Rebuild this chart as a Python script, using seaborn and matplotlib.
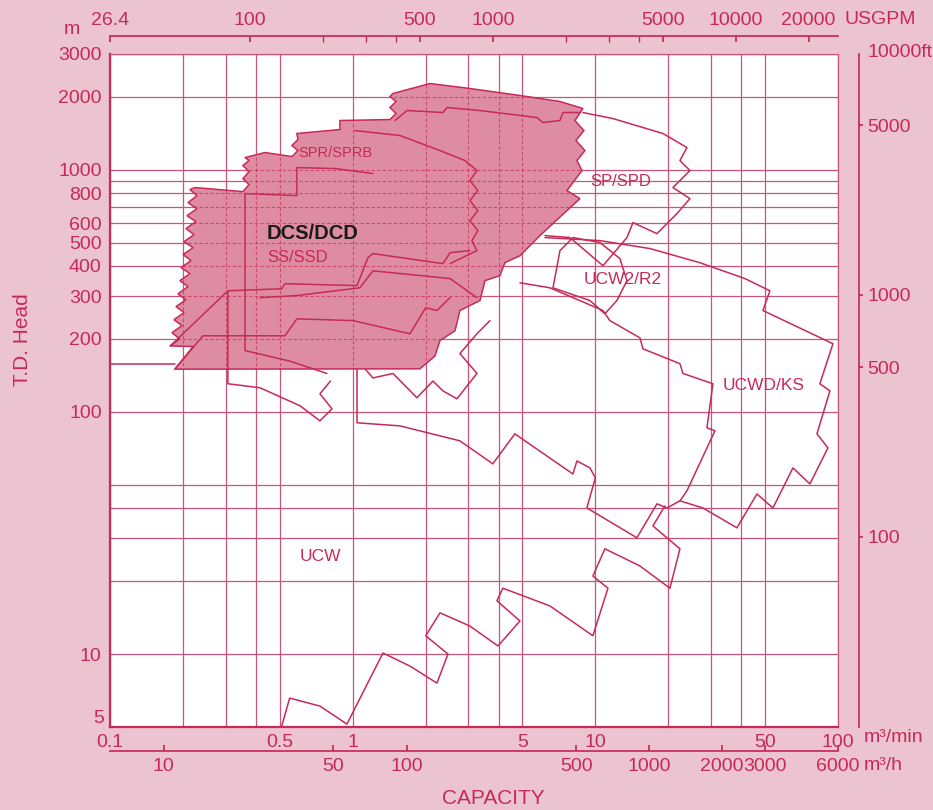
import numpy as np
import pandas as pd
import matplotlib
matplotlib.use("Agg")
import matplotlib.pyplot as plt
from matplotlib.ticker import NullFormatter, NullLocator
from matplotlib.transforms import blended_transform_factory
import seaborn as sns

BG = "#ecc3d0"
RED = "#c62a58"
FILL = "#de8ca4"
GRID = "#c9557a"

# axis ticks (capacity in m3/min, head in m)
q_major = [0.1, 0.5, 1, 5, 10, 50, 100]
q_labels = ["0.1", "0.5", "1", "5", "10", "50", "100"]
q_minor = [0.2, 0.3, 0.4, 2, 3, 4, 20, 30, 40]
h_major = [5, 10, 100, 200, 300, 400, 500, 600, 800, 1000, 2000, 3000]
h_minor = [20, 30, 40, 50, 700, 900]
m3h_ticks = [10, 50, 100, 500, 1000, 2000, 3000, 6000]
gpm_ticks = [26.42, 100, 500, 1000, 5000, 10000, 20000]
gpm_labels = ["26.4", "100", "500", "1000", "5000", "10000", "20000"]
gpm_minor = [200, 300, 400, 2000, 3000, 4000]
ft_ticks = [100, 500, 1000, 5000]

# filled range DCS/DCD + SS/SSD + SPR/SPRB (outer boundary)
fill_q = [0.185, 0.22, 0.177, 0.194, 0.180, 0.198, 0.1835, 0.202, 0.187, 0.2056, 0.1906,
          0.2096, 0.194, 0.2136, 0.196, 0.2157, 0.200, 0.22, 0.2018, 0.222, 0.2056, 0.226,
          0.2075, 0.2283, 0.2096, 0.2283, 0.2136, 0.224, 0.353, 0.374, 0.353, 0.374, 0.353,
          0.374, 0.36, 0.435, 0.562, 0.595, 0.562, 0.595, 0.589, 0.886, 0.886, 1.425, 1.508,
          1.425, 1.508, 1.425, 1.466, 2.083, 3.043, 4.891, 7.149, 8.889, 8.24, 8.97, 8.32,
          9.06, 8.40, 8.81, 7.638, 8.641, 5.913, 4.891, 4.24, 4.046, 3.51, 3.346, 2.767,
          2.64, 2.29, 2.183, 1.894]
fill_h = [150, 186, 187, 200, 212, 227, 240, 257, 272, 290, 307,
          329, 348, 372, 394, 421, 446, 476, 504, 539, 571, 610,
          645, 690, 730, 781, 827, 843, 811, 867, 918, 981, 1039,
          1090, 1121, 1176, 1132, 1198, 1257, 1330, 1409, 1463, 1594, 1609, 1703,
          1804, 1910, 2003, 2061, 2266, 2161, 2022, 1910, 1787, 1594, 1449, 1318,
          1198, 1090, 991, 819, 759, 534, 441, 413, 365, 348, 288, 262,
          216, 197, 170, 150.5]

# frame lines inside the filled range
frame_top_q = [1.022, 1.566, 2.29, 2.90, 3.252, 3.043, 3.28, 3.043, 3.28, 3.043, 3.28, 3.10, 3.252, 2.518]
frame_top_h = [1449, 1382, 1198, 1090, 991, 901, 819, 745, 677, 615, 560, 509, 463, 409]
inner_top_q = [1.494, 1.674, 2.355, 2.446, 3.346, 5.745, 6.08, 7.149, 7.355, 8.641]
inner_top_h = [1594, 1753, 1720, 1804, 1753, 1640, 1564, 1594, 1720, 1720]
spr_q = [0.36, 0.589, 0.589, 0.846, 1.212]
spr_h = [796, 781, 1019, 1010, 963]
ss_a_q = [0.177, 0.306, 0.51, 0.526, 1.042, 1.156, 1.212, 2.355, 2.518, 3.043]
ss_a_h = [187, 316, 322, 338, 332, 433, 450, 409, 454, 463]
ss_b_q = [0.185, 0.2416, 0.526, 0.589, 1.003, 1.722, 2.0, 2.225, 2.518]
ss_b_h = [150, 206, 206, 242, 238, 210, 269, 262, 296]
ss_c_q = [0.415, 0.589, 1.07, 1.212, 2.518, 3.252]
ss_c_h = [296, 302, 325, 382, 355, 296]
frame_edge_q = [0.36, 0.36, 0.55, 0.783]
frame_edge_h = [796, 179, 162, 144]

# outline ranges
ucw_top_q = [0.306, 0.306, 0.415, 0.607, 0.733, 0.822, 0.733, 0.81]
ucw_top_h = [316, 130.6, 125.7, 105.9, 91.8, 102.9, 118.7, 134]
ucw_left_q = [0.1, 0.185]
ucw_left_h = [158, 158]
sp_q = [8.889, 11.82, 18.99, 23.85, 22.32, 24.54, 20.88, 24.54, 21.69, 17.94, 14.29, 13.5, 10.75, 7.858, 6.2]
sp_h = [1720, 1624, 1409, 1233, 1090, 991, 843, 759, 658, 544, 604, 524, 401, 524, 534]
ucwd_q = [6.2, 10.45, 16.79, 26.9, 41.3, 52.42, 49.04, 95.3, 84.2, 92.6, 81.9, 90.9, 76.6, 65.2,
          53.94, 46.34, 38.32, 27.76, 22.32, 23.85, 31.11, 28.83, 30.52, 22.96, 22.32, 15.71,
          15.27, 11.48, 10.75, 6.502, 4.891]
ucwd_h = [524, 509, 472, 413, 355, 316, 262, 191, 130.6, 122, 81.1, 71, 50.4, 58.7,
          40.1, 45.8, 33.2, 40.1, 42.9, 47.2, 83.5, 85.9, 130.6, 144, 158, 182,
          202, 238, 262, 325, 341]
ucw2_q = [8.085, 10.45, 12.63, 13.5, 12.27, 10.95, 9.5, 6.69, 7.149, 8.085]
ucw2_h = [524, 500, 429, 348, 288, 254, 288, 325, 463, 524]
r2_low_q = [1.124, 1.212, 1.466, 1.84, 2.142, 2.355, 2.69, 3.252, 2.767, 3.252, 3.68]
r2_low_h = [150.5, 138, 144, 114.3, 134, 122, 113.2, 144, 174, 210, 238]
ucw_frame_q = [1.042, 1.042, 1.566, 2.767, 3.78, 4.66, 8.085, 8.40, 9.5, 10, 9.23, 14.84, 17.94, 19.72, 22.32]
ucw_frame_h = [150.5, 90.1, 87.5, 75.9, 61.0, 81.1, 55.4, 62.7, 58.7, 53.4, 40.1, 30.2, 41.7, 40.1, 42.9]
ucw_low_q = [0.51, 0.55, 0.733, 0.947, 1.333, 1.722, 2.225, 2.47, 2.0, 2.29, 3.043, 3.97, 4.891,
             3.93, 4.16, 6.502, 9.77, 11.27, 9.77, 10.95, 15.27, 20.29, 22.32, 17.27, 19.36]
ucw_low_h = [5.04, 6.58, 6.10, 5.14, 10.1, 8.92, 7.59, 10, 11.9, 14.8, 13.05, 10.8, 13.7,
             16.6, 18.7, 15.8, 11.9, 18.7, 21.0, 27.2, 23.1, 18.7, 27.2, 33.8, 40.9]

# region names: (text, q, h, size, bold, colour)
names = [("DCS/DCD", 0.44, 544, 14.5, True, "#1a1a1a"),
         ("SS/SSD", 0.445, 433, 12, False, RED),
         ("SPR/SPRB", 0.595, 1176, 10.5, False, RED),
         ("SP/SPD", 9.5, 893, 12, False, RED),
         ("UCW2/R2", 8.97, 351, 12.5, False, RED),
         ("UCWD/KS", 33.6, 129, 12.5, False, RED),
         ("UCW", 0.607, 25.4, 12.5, False, RED)]

sns.set_theme(style="white")
plt.rcParams["font.family"] = ["Liberation Sans", "DejaVu Sans"]

fig = plt.figure(figsize=(9.33, 8.10), dpi=100, facecolor=BG)
ax = fig.add_axes([110 / 933, 1 - 727 / 810, 728 / 933, 673 / 810])
ax.set_facecolor("white")
ax.set_xscale("log")
ax.set_yscale("log")
ax.set_xlim(0.1, 100)
ax.set_ylim(5, 3000)

ax.set_xticks(q_major, q_labels)
ax.set_xticks(q_minor, minor=True)
# the "5" label sits a little above the bottom edge, drawn separately below
ax.set_yticks(h_major, [""] + [str(v) for v in h_major[1:]])
ax.set_yticks(h_minor, minor=True)
ax.xaxis.set_minor_formatter(NullFormatter())
ax.yaxis.set_minor_formatter(NullFormatter())
ax.tick_params(axis="both", which="both", color=RED, labelcolor=RED, labelsize=14, width=1)
ax.tick_params(axis="y", which="both", direction="out", length=4, pad=2)
ax.tick_params(axis="x", which="major", direction="out", length=3, pad=2)
ax.tick_params(axis="x", which="minor", length=0)
ax.text(-0.008, h_major[0], str(h_major[0]), transform=blended_transform_factory(ax.transAxes, ax.transData),
        fontsize=14, color=RED, ha="right", va="bottom")

ax.set_axisbelow(True)
ax.grid(True, which="both", color=GRID, lw=0.9)
for side in ["left", "bottom"]:
    ax.spines[side].set_color(RED)
    ax.spines[side].set_linewidth(1.6)
for side in ["top", "right"]:
    ax.spines[side].set_color(GRID)
    ax.spines[side].set_linewidth(0.9)

# filled range, with dashed grid showing through
patch = ax.fill(fill_q, fill_h, color=FILL, ec=RED, lw=1.1, zorder=1)[0]
grid_h = [v for v in h_major + h_minor if 5 < v < 3000]
grid_q = [v for v in q_major + q_minor if 0.1 < v < 100]
dh = ax.hlines(grid_h, 0.1, 100, colors=RED, lw=0.8, linestyles=(0, (3, 2)), zorder=1.5, alpha=0.7)
dv = ax.vlines(grid_q, 5, 3000, colors=RED, lw=0.8, linestyles=(0, (3, 2)), zorder=1.5, alpha=0.7)
dh.set_clip_path(patch)
dv.set_clip_path(patch)

outlines = {
    "frame_top": (frame_top_q, frame_top_h),
    "inner_top": (inner_top_q, inner_top_h),
    "spr": (spr_q, spr_h),
    "ss_a": (ss_a_q, ss_a_h),
    "ss_b": (ss_b_q, ss_b_h),
    "ss_c": (ss_c_q, ss_c_h),
    "frame_edge": (frame_edge_q, frame_edge_h),
    "ucw_top": (ucw_top_q, ucw_top_h),
    "ucw_left": (ucw_left_q, ucw_left_h),
    "sp": (sp_q, sp_h),
    "ucwd": (ucwd_q, ucwd_h),
    "ucw2": (ucw2_q, ucw2_h),
    "r2_low": (r2_low_q, r2_low_h),
    "ucw_frame": (ucw_frame_q, ucw_frame_h),
    "ucw_low": (ucw_low_q, ucw_low_h),
}
df = pd.concat([pd.DataFrame({"q": q, "h": h, "shape": k}) for k, (q, h) in outlines.items()],
               ignore_index=True)
sns.lineplot(data=df, x="q", y="h", units="shape", estimator=None, sort=False,
             color=RED, lw=1.1, ax=ax, legend=False, zorder=3)

for text, q, h, size, bold, col in names:
    ax.text(q, h, text, fontsize=size, color=col, va="center", ha="left",
            fontweight="bold" if bold else "normal", zorder=4)

ax.set_xlabel("CAPACITY", fontsize=15, color=RED)
ax.xaxis.set_label_coords(0.526, -0.092)
ax.set_ylabel("T.D. Head", fontsize=15, color=RED)
ax.yaxis.set_label_coords(-0.107, 0.575)

# m3/h scale under the capacity axis
sec_h = ax.secondary_xaxis("bottom", functions=(lambda q: np.asarray(q) * 60, lambda v: np.asarray(v) / 60))
sec_h.spines["bottom"].set_position(("outward", 17))
sec_h.spines["bottom"].set_color(RED)
sec_h.set_xticks(m3h_ticks, [str(v) for v in m3h_ticks])
sec_h.xaxis.set_minor_locator(NullLocator())
sec_h.tick_params(direction="in", length=4, color=RED, labelcolor=RED, labelsize=14, pad=5)

# USGPM scale on top
top = ax.secondary_xaxis("top", functions=(lambda q: np.asarray(q) * 264.17, lambda g: np.asarray(g) / 264.17))
top.spines["top"].set_position(("outward", 13))
top.spines["top"].set_color(RED)
top.set_xticks(gpm_ticks, gpm_labels)
top.set_xticks(gpm_minor, minor=True)
top.xaxis.set_minor_formatter(NullFormatter())
top.tick_params(which="both", direction="in", length=4, color=RED, labelcolor=RED, labelsize=14, pad=5)

# feet scale on the right
right = ax.secondary_yaxis("right", functions=(lambda h: np.asarray(h) * 3.2808, lambda f: np.asarray(f) / 3.2808))
right.spines["right"].set_position(("outward", 15))
right.spines["right"].set_color(RED)
right.set_yticks(ft_ticks, [str(v) for v in ft_ticks])
right.yaxis.set_minor_locator(NullLocator())
right.tick_params(direction="out", length=3, color=RED, labelcolor=RED, labelsize=14, pad=3)
trans = blended_transform_factory(ax.transAxes, ax.transData)
ax.text(1.041, 10000 / 3.2808, "10000ft", transform=trans, fontsize=14, color=RED,
        va="center", ha="left", clip_on=False)

fig.text(64 / 933, 1 - 30 / 810, "m", fontsize=14, color=RED, va="center")
fig.text(845 / 933, 1 - 20 / 810, "USGPM", fontsize=14, color=RED, va="center")
fig.text(864 / 933, 1 - 738 / 810, "m³/min", fontsize=14, color=RED, va="center")
fig.text(864 / 933, 1 - 766 / 810, "m³/h", fontsize=14, color=RED, va="center")

fig.savefig("out.png", dpi=100, facecolor=BG)
